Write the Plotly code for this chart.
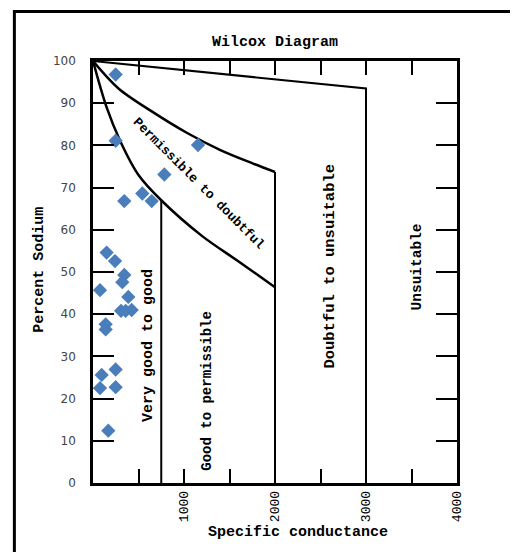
import plotly.graph_objects as go

# ---------------- data ----------------
chart_title = "Wilcox Diagram"
x_title = "Specific conductance"
y_title = "Percent Sodium"

# water samples: specific conductance (EC) and percent sodium
sample_ec = [249, 249, 1154, 784, 344, 542, 645, 150, 242, 344, 322, 77, 388,
             308, 359, 425, 139, 139, 249, 95, 77, 249, 168]
sample_na = [96.8, 81.1, 80.1, 73.1, 66.8, 68.6, 66.8, 54.6, 52.6, 49.3, 47.6,
             45.7, 44.1, 40.8, 40.8, 41.0, 37.6, 36.4, 26.9, 25.6, 22.5, 22.7, 12.4]

# class boundary curves
upper_x = [0, 280, 650, 1030, 1400, 1760, 2000]
upper_y = [100, 93.5, 88.0, 83.0, 78.9, 75.7, 73.7]
lower_x = [0, 150, 300, 500, 750, 1200, 1600, 2000]
lower_y = [100, 89.0, 81.0, 73.0, 67.0, 58.5, 52.5, 46.4]
top_x = [0, 3000]
top_y = [100, 93.5]

# vertical class limits
limit_x = [750, 2000, 3000]
limit_top = [67.0, 73.7, 93.5]

# region labels
region_names = ["Very good to good", "Good to permissible", "Permissible to doubtful",
                "Doubtful to unsuitable", "Unsuitable"]
region_x = [604, 1250, 1160, 2610, 3560]
region_y = [32.7, 21.8, 71.0, 51.4, 51.3]
region_angle = [-90, -90, 45, -90, -90]
region_size = [15, 14, 13, 15.5, 14.5]

x_tickvals = [500, 1000, 1500, 2000, 2500, 3000, 3500, 4000]
x_ticktext = ["", "1000", "", "2000", "", "3000", "", "4000"]
y_tickvals = [0, 10, 20, 30, 40, 50, 60, 70, 80, 90, 100]
y_ticktext = ["0", "10", "20", "30", "40", "50", "60", "70", "80", "90", "100"]

# ---------------- figure ----------------
mono = "Liberation Mono"
fig = go.Figure()

line_style = dict(color="black", width=2.5, shape="spline", smoothing=0.9)
fig.add_trace(go.Scatter(x=top_x + [limit_x[2]], y=top_y + [0], mode="lines",
                         line=dict(color="black", width=2), hoverinfo="skip"))
fig.add_trace(go.Scatter(x=upper_x, y=upper_y, mode="lines",
                         line=line_style, hoverinfo="skip"))
fig.add_trace(go.Scatter(x=lower_x, y=lower_y, mode="lines",
                         line=line_style, hoverinfo="skip"))
for lx, lt in zip(limit_x[:2], limit_top[:2]):
    fig.add_trace(go.Scatter(x=[lx, lx], y=[lt, 0], mode="lines",
                             line=dict(color="black", width=2), hoverinfo="skip"))

fig.add_trace(go.Scatter(x=sample_ec, y=sample_na, mode="markers",
                         marker=dict(symbol="diamond", size=11, color="#4a7ebb")))

for name, rx, ry, ang, sz in zip(region_names, region_x, region_y, region_angle,
                                 region_size):
    fig.add_annotation(x=rx, y=ry, xref="x", yref="y", text=name, showarrow=False,
                       textangle=ang, xanchor="center", yanchor="middle",
                       font=dict(family=mono, size=sz, color="black", weight="bold"))

# axis titles and chart title
fig.add_annotation(x=0.5, y=1.045, xref="paper", yref="paper", text=chart_title,
                   showarrow=False, xanchor="center", yanchor="middle",
                   font=dict(family=mono, size=15, color="black", weight="bold"))
fig.add_annotation(x=0.563, y=-0.118, xref="paper", yref="paper", text=x_title,
                   showarrow=False, xanchor="center", yanchor="middle",
                   font=dict(family=mono, size=15, color="black", weight="bold"))
fig.add_annotation(x=-0.146, y=0.505, xref="paper", yref="paper", text=y_title,
                   showarrow=False, textangle=-90, xanchor="center", yanchor="middle",
                   font=dict(family=mono, size=15, color="black", weight="bold"))

# outer frame (left and top edges visible)
fig.add_shape(type="rect", xref="paper", yref="paper", x0=-0.216, y0=-1,
              x1=2, y1=1.1175, line=dict(color="black", width=3))

fig.update_xaxes(range=[0, 4000], tickvals=x_tickvals, ticktext=x_ticktext,
                 ticks="inside", ticklen=14, tickwidth=2, tickcolor="black",
                 showline=True, linewidth=2.5, linecolor="black", mirror="ticks",
                 tickangle=-90, tickfont=dict(family=mono, size=13, color="black"),
                 showgrid=False, zeroline=False)
fig.update_yaxes(range=[0, 100], tickvals=y_tickvals, ticktext=y_ticktext,
                 ticks="inside", ticklen=21, tickwidth=2, tickcolor="black",
                 showline=True, linewidth=2.5, linecolor="black", mirror="ticks",
                 tickfont=dict(family="DejaVu Sans", size=12, color="#444444"),
                 ticklabelstandoff=12, showgrid=False, zeroline=False)

fig.update_layout(width=510, height=544, showlegend=False,
                  margin=dict(l=85, r=61, t=53, b=69),
                  paper_bgcolor="white", plot_bgcolor="white")

fig.write_html("out.html")
